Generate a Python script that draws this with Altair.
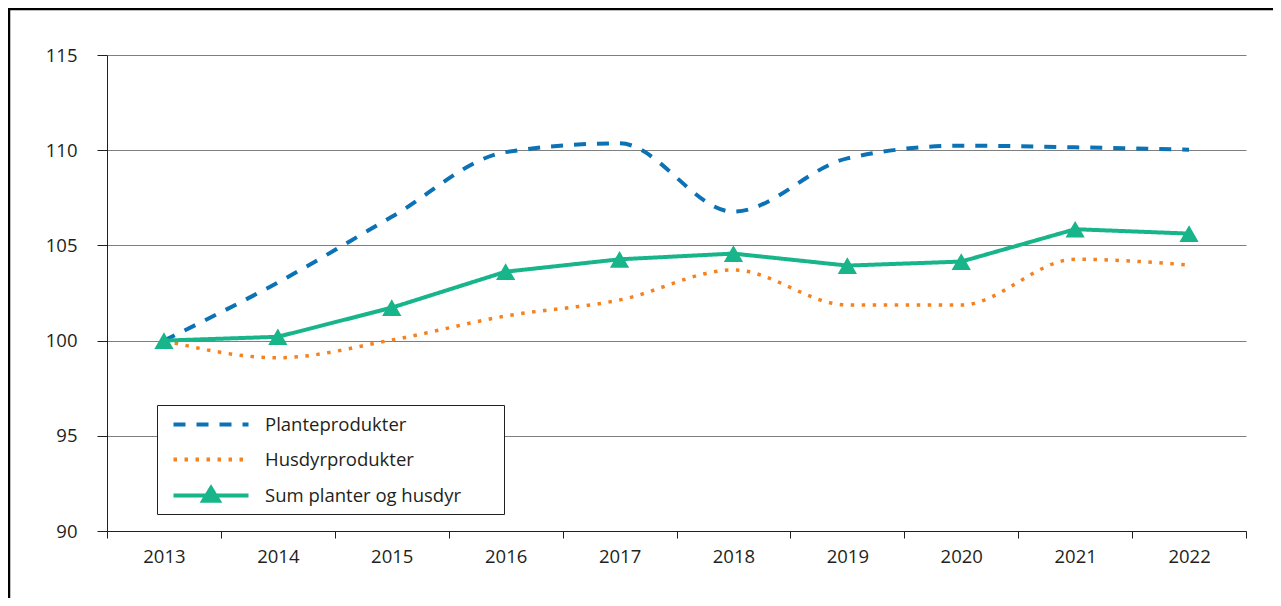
import altair as alt
import pandas as pd

years = ["2013", "2014", "2015", "2016", "2017", "2018", "2019", "2020", "2021", "2022"]
planteprodukter = [100.0, 103.05, 106.5, 109.9, 110.36, 106.77, 109.57, 110.24, 110.15, 110.03]
husdyrprodukter = [100.0, 99.1, 100.03, 101.29, 102.13, 103.71, 101.87, 101.87, 104.27, 103.97]
sum_planter_husdyr = [100.0, 100.2, 101.73, 103.62, 104.27, 104.57, 103.94, 104.15, 105.85, 105.62]
series = ["Planteprodukter", "Husdyrprodukter", "Sum planter og husdyr"]
colors = ["#0b72b5", "#f5821f", "#18b48a"]
dashes = [[12, 11], [3.5, 7.5], [1, 0]]
legend_shapes = ["M0,0H6", "M0,0H6", "M0,0H6M2.38,0.42L3,-0.6L3.62,0.42Z"]
y_ticks = [90, 95, 100, 105, 110, 115]

FONT = "Open Sans"
TEXT = "#231f20"


def frame(name, vals):
    return pd.DataFrame({"year": years, "series": name, "value": vals})


df_p = frame(series[0], planteprodukter)
df_h = frame(series[1], husdyrprodukter)
df_s = frame(series[2], sum_planter_husdyr)
df_all = pd.concat([df_p, df_h, df_s])


def legend():
    return alt.Legend(
        title=".", titleOrient="right", titleColor="white", titleFontSize=4, titlePadding=36,
        orient="none", legendX=50, legendY=350, padding=5,
        strokeColor=TEXT, fillColor="white", symbolSize=625, symbolStrokeWidth=4,
        symbolOffset=-3, labelOffset=77, labelFont=FONT, labelFontSize=18.5,
        labelColor=TEXT, rowPadding=11, symbolOpacity=1, labelLimit=0,
    )


x = alt.X(
    "year:O", bandPosition=0.5,
    scale=alt.Scale(type="band", paddingInner=0, paddingOuter=0),
    axis=alt.Axis(title=None, labelAngle=0, tickBand="extent", tickSize=7, labelPadding=9,
                  domainColor=TEXT, tickColor=TEXT, labelColor=TEXT, labelFont=FONT,
                  labelFontSize=18.5, grid=False),
)
y = alt.Y(
    "value:Q", scale=alt.Scale(domain=[90, 115], nice=False, zero=False),
    axis=alt.Axis(title=None, values=y_ticks, grid=True, gridColor="#7f7f7f", gridWidth=1,
                  tickSize=10, labelPadding=20, domainColor=TEXT, tickColor=TEXT,
                  labelColor=TEXT, labelFont=FONT, labelFontSize=18.5),
)
color = alt.Color("series:N", scale=alt.Scale(domain=series, range=colors), legend=legend())
dash = alt.StrokeDash("series:N", scale=alt.Scale(domain=series, range=dashes), legend=legend())
shape = alt.Shape("series:N", scale=alt.Scale(domain=series, range=legend_shapes), legend=legend())

one = pd.DataFrame({"k": [0]})
border_left = alt.Chart(one).mark_rule(color="#000000", strokeWidth=2.5).encode(
    x=alt.value(-98), y=alt.value(-46), y2=alt.value(600))
border_top = alt.Chart(one).mark_rule(color="#000000", strokeWidth=2.5).encode(
    x=alt.value(-99), x2=alt.value(1300), y=alt.value(-46))

line_p = alt.Chart(df_p).mark_line(interpolate="monotone", strokeWidth=4).encode(
    x=x, y=y, color=color, strokeDash=dash)
line_h = alt.Chart(df_h).mark_line(interpolate="monotone", strokeWidth=3.5).encode(
    x=x, y=y, color=color, strokeDash=dash)
line_s = alt.Chart(df_s).mark_line(strokeWidth=4).encode(
    x=x, y=y, color=color, strokeDash=dash)
tri = alt.Chart(df_s).mark_point(shape="triangle-up", filled=True, size=370, opacity=1).encode(
    x=x, y=y, color=alt.value(colors[2]))
legend_helper = alt.Chart(df_all).mark_point(filled=True, size=0, opacity=0).encode(
    x=x, y=y, color=color, shape=shape)

chart = alt.layer(
    line_p, line_h, line_s, tri, legend_helper, border_left, border_top
).properties(
    width=1139, height=476,
    padding={"left": 99, "top": 47, "right": 27, "bottom": 67},
    autosize=alt.AutoSizeParams(type="none"),
).configure_view(stroke=None)

chart.save("out.html", embed_options={"renderer": "svg", "actions": False})
